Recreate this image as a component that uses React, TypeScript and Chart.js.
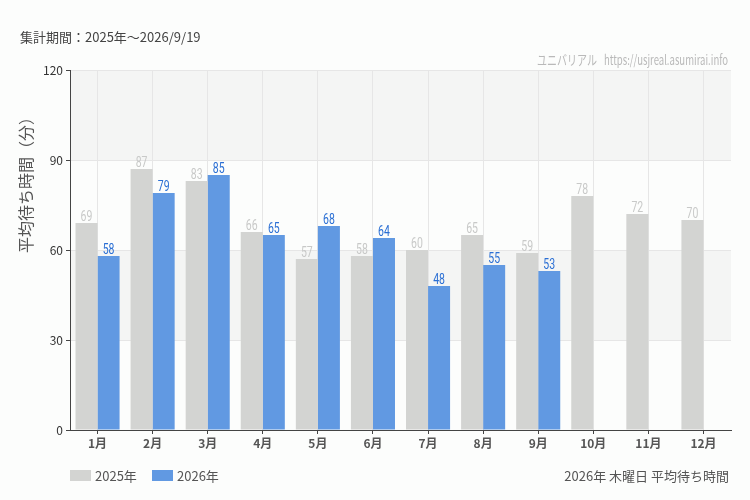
import React, { useEffect, useRef } from "react";
import { Chart, registerables } from "chart.js";

Chart.register(...registerables);

const months = ["1月", "2月", "3月", "4月", "5月", "6月", "7月", "8月", "9月", "10月", "11月", "12月"];
const series2025 = [69, 87, 83, 66, 57, 58, 60, 65, 59, 78, 72, 70];
const series2026: (number | null)[] = [58, 79, 85, 65, 68, 64, 48, 55, 53, null, null, null];
const seriesLabels = ["2025年", "2026年"];
const yTickStep = 30;
const yMax = 120;
const bandRanges = [
  [90, 120],
  [30, 60],
];
const periodText = "集計期間：2025年～2026/9/19";
const sourceName = "ユニバリアル";
const sourceUrl = "https://usjreal.asumirai.info";
const footerText = "2026年 木曜日 平均待ち時間";
const yTitle = "平均待ち時間（分）";

const barColors = ["#d3d4d2", "#6199e2"];
const labelColors = ["#c8c9c8", "#2a6fd4"];
const JP = "'Noto Sans CJK JP', 'Noto Sans', sans-serif";

function drawFitted(ctx: CanvasRenderingContext2D, text: string, x: number, y: number, sx: number, align: CanvasTextAlign) {
  ctx.save();
  ctx.translate(x, y);
  ctx.scale(sx, 1);
  ctx.textAlign = align;
  ctx.fillText(text, 0, 0);
  ctx.restore();
}

const decorPlugin = {
  id: "decor",
  beforeDraw(chart: any) {
    const { ctx, chartArea, scales } = chart;
    ctx.save();
    ctx.fillStyle = "#fcfdfc";
    ctx.fillRect(0, 0, chart.width, chart.height);
    ctx.fillStyle = "#f4f5f4";
    for (const [a, b] of bandRanges) {
      const y1 = scales.y.getPixelForValue(b);
      const y2 = scales.y.getPixelForValue(a);
      ctx.fillRect(chartArea.left, y1, chartArea.right - chartArea.left, y2 - y1);
    }
    ctx.restore();
  },
  afterDatasetsDraw(chart: any) {
    const { ctx } = chart;
    ctx.save();
    ctx.font = `15px Roboto, 'DejaVu Sans', sans-serif`;
    ctx.textBaseline = "alphabetic";
    chart.data.datasets.forEach((ds: any, di: number) => {
      const meta = chart.getDatasetMeta(di);
      ctx.fillStyle = labelColors[di];
      meta.data.forEach((el: any, i: number) => {
        const v = ds.data[i];
        if (v === null || v === undefined) return;
        drawFitted(ctx, String(v), el.x, el.y - 2, 0.7, "center");
      });
    });
    ctx.restore();
  },
  afterDraw(chart: any) {
    const { ctx, chartArea } = chart;
    ctx.save();
    ctx.textBaseline = "middle";
    // period text
    ctx.fillStyle = "#444";
    ctx.font = `13px ${JP}`;
    ctx.textAlign = "left";
    ctx.fillText(periodText, 20, 37);
    // source
    ctx.fillStyle = "#b9b9b9";
    ctx.font = `13.5px ${JP}`;
    const wUrl = ctx.measureText(sourceUrl).width;
    drawFitted(ctx, sourceUrl, chartArea.right - 3, 60, 124 / wUrl, "right");
    const wName = ctx.measureText(sourceName).width;
    drawFitted(ctx, sourceName, chartArea.right - 3 - 131, 60, 60 / wName, "right");
    // y title
    ctx.fillStyle = "#555";
    ctx.font = `16px ${JP}`;
    ctx.save();
    ctx.translate(26, 181);
    ctx.rotate(-Math.PI / 2);
    ctx.textAlign = "center";
    ctx.fillText(yTitle, 0, 0);
    ctx.restore();
    // legend
    ctx.font = `13px ${JP}`;
    ctx.textAlign = "left";
    const legendX = [chartArea.left, chartArea.left + 82];
    seriesLabels.forEach((lab, i) => {
      ctx.fillStyle = barColors[i];
      ctx.fillRect(legendX[i], 470, 21, 11);
      ctx.fillStyle = "#555";
      ctx.fillText(lab, legendX[i] + 25, 476);
    });
    // footer
    ctx.textAlign = "right";
    ctx.fillStyle = "#555";
    ctx.fillText(footerText, chartArea.right - 2, 476);
    ctx.restore();
  },
};

export default function App() {
  const ref = useRef<HTMLCanvasElement | null>(null);
  useEffect(() => {
    if (!ref.current) return;
    const chart = new Chart(ref.current, {
      type: "bar",
      data: {
        labels: months,
        datasets: [
          {
            label: seriesLabels[0],
            data: series2025,
            backgroundColor: barColors[0],
            categoryPercentage: 0.8,
            barPercentage: 1,
          },
          {
            label: seriesLabels[1],
            data: series2026,
            backgroundColor: barColors[1],
            categoryPercentage: 0.8,
            barPercentage: 1,
          },
        ],
      },
      options: {
        animation: false,
        responsive: false,
        layout: { padding: { top: 70, right: 19, left: 0, bottom: 0 } },
        plugins: {
          legend: { display: false },
          tooltip: { enabled: false },
        },
        scales: {
          x: {
            grid: { offset: false, color: "#e6e6e6", tickColor: "#444", tickLength: 4, drawTicks: true },
            border: { color: "#444", width: 1 },
            ticks: { color: "#555", font: { family: JP, size: 12, weight: "bold" }, padding: 2, maxRotation: 0 },
            afterFit: (s: any) => {
              s.height = 70;
            },
          },
          y: {
            min: 0,
            max: yMax,
            ticks: { stepSize: yTickStep, color: "#333", font: { family: JP, size: 12 }, padding: 3 },
            grid: { color: "#e6e6e6", tickColor: "#444", tickLength: 4, drawTicks: true },
            border: { color: "#444", width: 1 },
            afterFit: (s: any) => {
              s.width = 70;
            },
          },
        },
      },
      plugins: [decorPlugin],
    } as any);
    return () => chart.destroy();
  }, []);
  return (
    <div style={{ position: "absolute", left: 0, top: 0, width: 750, height: 500, background: "#fcfdfc" }}>
      <canvas ref={ref} width={750} height={500} style={{ width: 750, height: 500, display: "block" }} />
    </div>
  );
}
